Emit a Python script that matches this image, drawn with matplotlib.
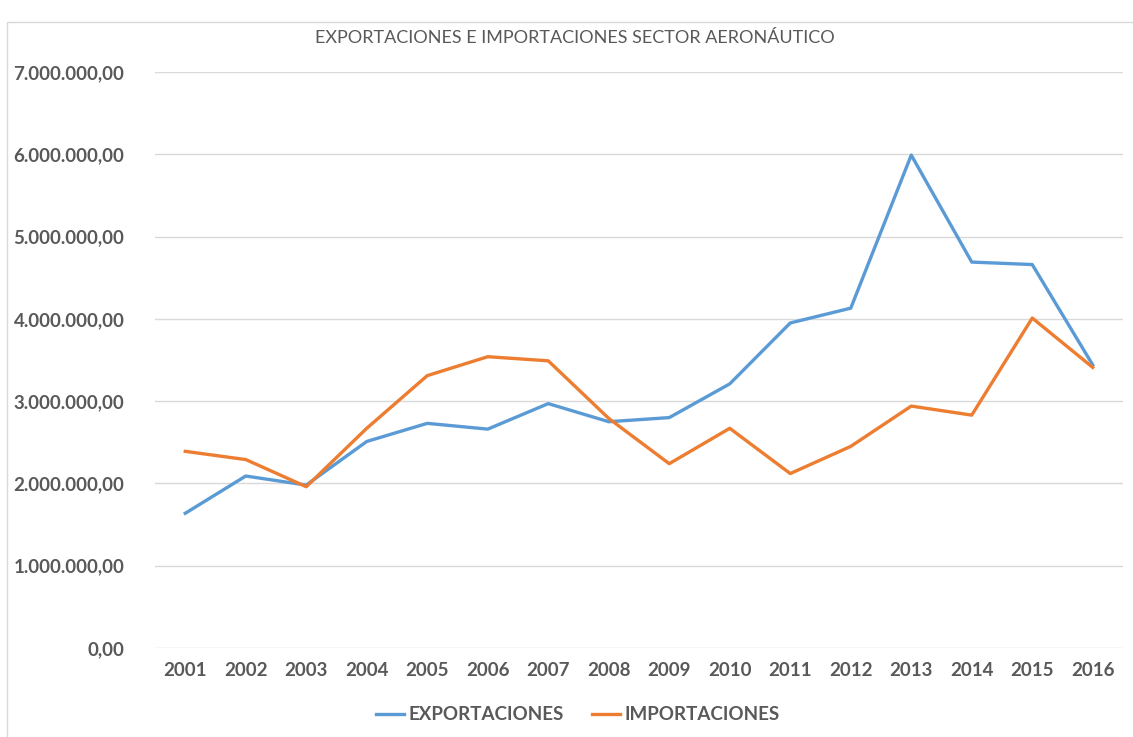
import matplotlib.pyplot as plt
from matplotlib.patches import Rectangle
from matplotlib.ticker import FuncFormatter

years = ['2001', '2002', '2003', '2004', '2005', '2006', '2007', '2008',
         '2009', '2010', '2011', '2012', '2013', '2014', '2015', '2016']
exportaciones = [1637000, 2090000, 1980000, 2510000, 2730000, 2660000, 2970000, 2750000,
                 2800000, 3210000, 3950000, 4130000, 5990000, 4690000, 4660000, 3440000]
importaciones = [2390000, 2290000, 1960000, 2670000, 3310000, 3540000, 3490000, 2790000,
                 2240000, 2670000, 2120000, 2450000, 2940000, 2830000, 4010000, 3410000]

plt.rcParams['font.family'] = ['Lato', 'DejaVu Sans']
gris = '#595959'

fig = plt.figure(figsize=(11.33, 7.37), dpi=100)
ax = fig.add_axes([155 / 1133, 1 - 648 / 737, 968 / 1133, 576 / 737])

# marco del grafico
fig.patches.append(Rectangle((7 / 1133, -0.05), 1.1, 1 - 22 / 737 + 0.05,
                             transform=fig.transFigure, fill=False,
                             edgecolor='#d9d9d9', linewidth=1))

x = range(len(years))
ax.plot(x, exportaciones, color='#5B9BD5', linewidth=2.4, label='EXPORTACIONES')
ax.plot(x, importaciones, color='#ED7D31', linewidth=2.4, label='IMPORTACIONES')

ax.set_xlim(-0.5, len(years) - 0.5)
ax.set_ylim(0, 7000000)
ax.set_yticks(range(0, 7000001, 1000000))
ax.yaxis.set_major_formatter(FuncFormatter(
    lambda v, p: f'{v:,.2f}'.replace(',', 'X').replace('.', ',').replace('X', '.')))
ax.set_xticks(list(x))
ax.set_xticklabels(years)

ax.grid(axis='y', color='#d9d9d9', linewidth=1)
ax.set_axisbelow(True)
for s in ax.spines.values():
    s.set_visible(False)
ax.tick_params(length=0, labelsize=13.5, labelcolor=gris, pad=10)
for lab in ax.get_xticklabels() + ax.get_yticklabels():
    lab.set_fontweight('bold')
ax.tick_params(axis='y', pad=22)

fig.text(575 / 1133, 1 - 38 / 737, 'EXPORTACIONES E IMPORTACIONES SECTOR AERONÁUTICO',
         ha='center', va='center', fontsize=13, color=gris)

leg = fig.legend(loc='center', bbox_to_anchor=(578 / 1133, 1 - 715 / 737), ncol=2,
                 frameon=False, fontsize=13.5, labelcolor=gris,
                 handlelength=1.5, handletextpad=0.25, columnspacing=1.5)
for t in leg.get_texts():
    t.set_fontweight('bold')

fig.savefig('out.png', dpi=100)
